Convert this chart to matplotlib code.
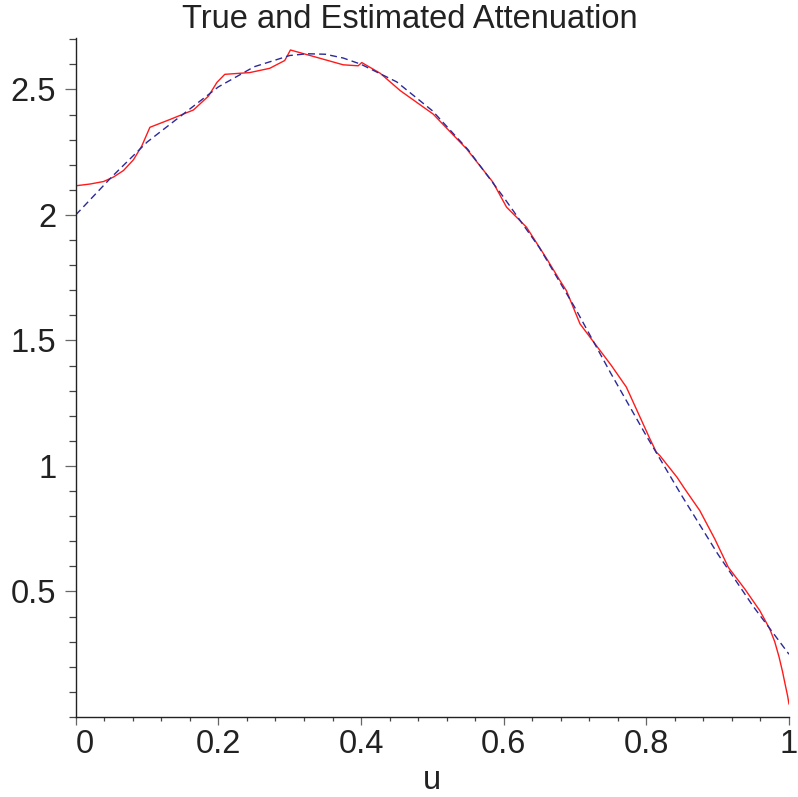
import matplotlib
matplotlib.use('Agg')
import matplotlib.pyplot as plt
from matplotlib.ticker import MultipleLocator

plt.rcParams['font.family'] = ['Liberation Sans', 'DejaVu Sans']

# estimated attenuation (piecewise, with kinks at the grid nodes)
u_est = [0.0, 0.02, 0.039, 0.053, 0.067, 0.081, 0.0925, 0.104, 0.132, 0.165,
         0.186, 0.198, 0.209, 0.244, 0.272, 0.293, 0.298, 0.301, 0.375, 0.396,
         0.401, 0.427, 0.455, 0.501, 0.548, 0.585, 0.604, 0.632, 0.660, 0.679,
         0.688, 0.707, 0.730, 0.751, 0.772, 0.805, 0.814, 0.819, 0.843, 0.854,
         0.875, 0.896, 0.915, 0.938, 0.959, 0.973, 0.980, 0.986, 0.991, 0.995,
         0.998, 1.0]
a_est = [2.116, 2.123, 2.133, 2.151, 2.177, 2.220, 2.274, 2.349, 2.380, 2.418,
         2.473, 2.528, 2.560, 2.567, 2.584, 2.615, 2.641, 2.657, 2.598, 2.594,
         2.607, 2.564, 2.495, 2.402, 2.263, 2.130, 2.031, 1.951, 1.827, 1.738,
         1.698, 1.566, 1.479, 1.400, 1.314, 1.108, 1.055, 1.041, 0.955, 0.908,
         0.822, 0.709, 0.596, 0.510, 0.424, 0.351, 0.300, 0.240, 0.180, 0.125,
         0.085, 0.052]

# true attenuation
u_true = [0.0, 0.05, 0.1, 0.15, 0.2, 0.25, 0.3, 0.325, 0.35, 0.375, 0.4,
          0.45, 0.5, 0.55, 0.6, 0.65, 0.7, 0.75, 0.8, 0.85, 0.9, 0.95, 1.0]
a_true = [2.00, 2.15, 2.29, 2.40, 2.51, 2.59, 2.635, 2.642, 2.64, 2.625, 2.60,
          2.53, 2.415, 2.26, 2.07, 1.87, 1.63, 1.37, 1.12, 0.88, 0.65, 0.44, 0.25]

xticks = [0, 0.2, 0.4, 0.6, 0.8, 1]
xticklabels = ['0', '0.2', '0.4', '0.6', '0.8', '1']
yticks = [0.5, 1, 1.5, 2, 2.5]
yticklabels = ['0.5', '1', '1.5', '2', '2.5']

fs = 23.5

fig = plt.figure(figsize=(7.98, 7.97), dpi=100)
ax = fig.add_axes([0.0949, 0.1004, 0.8938, 0.852])

ax.plot(u_est, a_est, color='#ff1a1a', lw=1.0)
ax.plot(u_true, a_true, color='#2a2a9a', lw=1.0, dashes=(5, 3))

ax.set_xlim(0, 1)
ax.set_ylim(0, 2.705)
for side in ['top', 'right']:
    ax.spines[side].set_visible(False)
for side in ['left', 'bottom']:
    ax.spines[side].set_linewidth(1.0)
    ax.spines[side].set_color('#222222')

ax.set_xticks(xticks)
ax.set_xticklabels(xticklabels)
ax.set_yticks(yticks)
ax.set_yticklabels(yticklabels)
ax.xaxis.set_minor_locator(MultipleLocator(0.04))
ax.yaxis.set_minor_locator(MultipleLocator(0.1))

ax.tick_params(axis='x', which='major', length=6, width=0.9, color='#666666',
               pad=3, labelsize=fs, labelcolor='#222222')
ax.tick_params(axis='x', which='minor', length=3, width=0.9, color='#444444')
ax.tick_params(axis='y', which='major', length=8, width=0.9, color='#666666',
               pad=6, labelsize=fs, labelcolor='#222222')
ax.tick_params(axis='y', which='minor', length=5, width=0.9, color='#444444')
ax.get_xticklabels()[0].set_horizontalalignment('left')

ax.set_xlabel('u', fontsize=fs, color='#222222', labelpad=3)
fig.text(410 / 798, 1 - 19 / 797, 'True and Estimated Attenuation',
         ha='center', va='center', fontsize=fs, color='#222222')

fig.savefig('out.png', dpi=100)
